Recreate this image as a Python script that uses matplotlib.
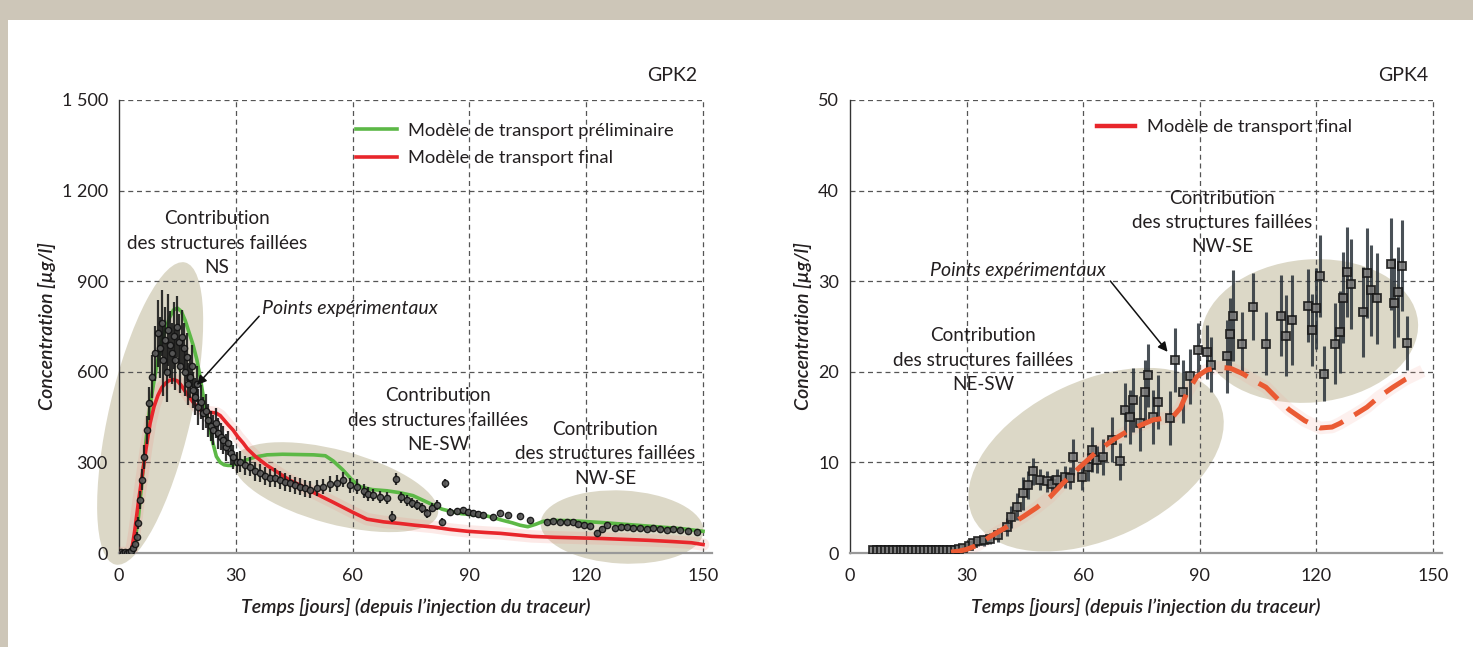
import matplotlib
matplotlib.use("Agg")
import matplotlib.pyplot as plt
from matplotlib.patches import Ellipse, Rectangle
from matplotlib.transforms import ScaledTranslation
from matplotlib.lines import Line2D

plt.rcParams['font.family'] = ['Lato', 'DejaVu Sans']

# ---------------- data: GPK2 ----------------
gpk2_t = [0.5, 1, 1.5, 2, 2.5, 3, 3.5, 4, 4.5, 5, 5.4, 5.8, 6.4, 7.1, 7.8, 8.4, 9.2, 10.1, 10.6, 11.0,
          11.4, 11.8, 12.3, 12.7, 13.1, 13.5, 14.0, 14.4, 14.8, 15.3, 15.7, 16.1, 16.6, 17.0, 17.4, 17.8,
          18.2, 18.7, 19.1, 19.5, 20.0, 20.4, 21.0, 21.7, 22.3, 22.9, 23.5, 24.2, 24.8, 25.5, 26.2, 26.8,
          27.5, 28.1, 28.8, 29.4, 30.2, 31.1, 32.3, 33.6, 34.9, 36.2, 37.5, 38.8, 40.1, 41.4, 42.6, 43.9,
          45.2, 46.5, 47.8, 49.1, 50.8, 52.5, 54.2, 55.9, 57.6, 59.3, 61.1, 62.8, 64.0, 65.3, 67.0, 68.8,
          70.0, 71.2, 72.5, 73.9, 75.2, 76.5, 77.8, 79.0, 80.5, 81.8, 82.9, 83.7, 85.0, 86.7, 88.4, 89.7,
          91.0, 92.3, 93.6, 96.1, 97.9, 100.0, 103.0, 105.6, 109.9, 111.5, 113.3, 115.0, 116.7, 118.0,
          119.3, 121.0, 122.7, 124.0, 125.3, 127.4, 129.0, 130.4, 132.0, 133.8, 135.5, 137.2, 139.0,
          140.7, 142.4, 144.1, 146.2, 148.4]
gpk2_c = [2, 0, 3, 0, 2, 5, 15, 30, 54, 98, 175, 242, 319, 407, 496, 584, 661, 727, 680, 761,
          640, 705, 600, 738, 690, 661, 720, 640, 750, 700, 620, 716, 680, 600, 650, 560,
          584, 620, 540, 518, 560, 484, 500, 463, 470, 440, 420, 407, 430, 396, 385, 374,
          350, 363, 330, 319, 300, 302, 290, 286, 270, 264, 255, 247, 250, 242, 235, 231,
          225, 220, 215, 209, 215, 220, 228, 231, 242, 225, 220, 205, 195, 192, 185, 181,
          120, 244, 185, 175, 165, 159, 148, 131, 150, 159, 104, 231, 137, 140, 142, 135,
          131, 128, 126, 120, 133, 126, 123, 109, 104, 106, 104, 102, 104, 95,
          93, 88, 65, 80, 93, 82, 85, 87, 84, 82, 80, 82, 78,
          76, 78, 76, 72, 71]
gpk2_err = [4, 4, 4, 4, 4, 5, 8, 10, 14, 20, 30, 35, 40, 45, 55, 70, 90, 110, 100, 110,
            120, 110, 100, 120, 110, 100, 110, 100, 100, 90, 90, 90, 80, 80, 80, 70,
            70, 70, 60, 60, 60, 60, 55, 55, 55, 55, 50, 50, 50, 50, 45, 45,
            45, 40, 40, 40, 35, 35, 32, 32, 30, 30, 30, 30, 30, 30, 30, 28,
            28, 28, 28, 28, 26, 26, 26, 26, 25, 25, 24, 22, 22, 20, 20, 20,
            18, 20, 18, 18, 16, 16, 16, 15, 15, 15, 12, 15, 12, 10, 10, 10,
            10, 10, 10, 8, 8, 8, 8, 8, 8, 8, 8, 8, 8, 8,
            8, 8, 10, 8, 8, 8, 8, 8, 8, 8, 8, 8, 8,
            8, 8, 8, 8, 8]

gpk2_prelim_t = [0, 3, 4, 5, 6, 7, 8, 9, 10, 11, 12, 13, 14, 15, 16, 17, 18, 19, 20, 21, 22, 23, 24,
                 25, 26, 27, 28, 29, 30, 32, 35, 38, 42, 46, 50, 53, 55, 57.5, 60, 62, 65, 68.8, 72,
                 75.5, 78, 80.7, 83, 85.8, 88, 90, 93.5, 96, 98, 101, 103, 105, 107, 109, 112, 116,
                 120, 125, 130, 135, 140, 145, 150]
gpk2_prelim_c = [0, 0, 30, 120, 250, 380, 490, 570, 640, 700, 745, 780, 805, 811, 800, 770, 730, 690,
                 640, 570, 490, 430, 370, 320, 300, 292, 290, 290, 295, 305, 318, 325, 327, 326, 325,
                 322, 305, 275, 240, 219, 210, 206, 200, 190, 175, 159, 145, 136, 130, 128, 125, 118,
                 110, 100, 92, 87, 95, 105, 108, 107, 104, 100, 95, 90, 85, 80, 72]

gpk2_final_t = [0, 3, 3.5, 4, 4.5, 5, 6, 7, 8, 9, 10, 11, 12, 13, 14, 15, 16, 17, 18, 19, 20, 21, 22,
                23, 24, 25, 26, 27, 28, 29.3, 30.5, 31.9, 33, 35, 38, 41, 44, 46.5, 50, 55, 60, 63.7,
                68, 72, 76, 80.7, 85, 89.4, 94, 98, 102, 106, 112, 118, 124, 130, 136, 142, 147, 150]
gpk2_final_c = [0, 0, 30, 70, 120, 170, 260, 350, 430, 485, 522, 548, 563, 572, 574, 570, 555, 535,
                517, 500, 485, 472, 468, 466, 465, 463, 455, 440, 425, 407, 385, 364, 345, 320, 290,
                265, 240, 225, 200, 168, 135, 112, 103, 98, 92, 86, 78, 72, 68, 65, 60, 55, 52, 50,
                48, 45, 42, 38, 34, 28]

# ---------------- data: GPK4 ----------------
gpk4_t = [6, 7, 8, 9, 10, 11, 12, 13, 14, 15, 16, 17, 18, 19, 20, 21, 22, 23, 24, 25, 26, 27, 28, 29,
          30.5, 31.7, 33, 34.5, 36.0, 38, 40.3, 41.5, 42.9, 44.6, 45.8, 47.2, 48.9, 50.6, 52, 53.2, 55.3,
          56.5, 57.4, 59.6, 61.3, 62.2, 63.5, 65.2, 67.3, 69.5, 70.7, 72.0, 72.9, 74.6, 75.9, 76.7,
          78.0, 79.3, 82.3, 83.6, 85.7, 87.5, 89.6, 91.8, 93.0, 96.9, 97.8, 98.6, 100.8, 103.8, 107.0,
          111.0, 112.2, 113.6, 117.9, 118.8, 119.9, 120.9, 121.9, 124.8, 126.1, 126.9, 127.9, 128.9,
          132.1, 133.1, 134.0, 135.7, 139.1, 140.0, 141.1, 142.0, 143.2]
gpk4_c = [0.3, 0.3, 0.3, 0.3, 0.3, 0.3, 0.3, 0.3, 0.3, 0.3, 0.3, 0.3, 0.3, 0.3, 0.3, 0.3, 0.3, 0.3,
          0.3, 0.3, 0.3, 0.3, 0.4, 0.5,
          0.8, 1.1, 1.3, 1.4, 1.6, 2.0, 2.9, 4.0, 5.1, 6.6, 7.5, 9.0, 8.1, 7.9, 7.6, 8.1, 8.4,
          8.3, 10.6, 8.4, 9.5, 11.4, 10.3, 10.6, 12.5, 10.1, 15.8, 15.0, 16.9, 14.3, 17.8, 19.6,
          15.0, 16.7, 14.9, 21.3, 17.8, 19.5, 22.4, 22.2, 20.8, 21.7, 24.2, 26.2, 23.1, 27.2, 23.1,
          26.2, 24.0, 25.7, 27.3, 24.6, 27.0, 30.6, 19.8, 23.1, 24.4, 28.2, 31.0, 29.7,
          26.6, 30.9, 29.0, 28.1, 31.9, 27.6, 28.8, 31.7, 23.2]
gpk4_err = [0.2] * 24 + [
          0.4, 0.5, 0.5, 0.6, 0.6, 0.8, 1.0, 1.2, 1.5, 1.8, 1.5, 1.5, 1.2, 1.2, 1.0, 1.2, 1.2,
          1.2, 2.0, 1.5, 1.5, 2.5, 1.5, 2.0, 2.5, 2.0, 3.0, 3.0, 3.5, 3.0, 3.5, 3.5,
          3.0, 3.0, 3.0, 3.5, 3.5, 3.0, 3.0, 3.0, 3.0, 4.0, 4.0, 5.0, 3.5, 3.7, 3.5,
          4.5, 4.5, 5.0, 4.0, 4.0, 4.5, 4.5, 3.0, 4.5, 4.5, 5.0, 5.0, 5.0,
          5.0, 5.0, 5.0, 5.0, 5.1, 5.0, 5.0, 5.0, 3.0]

gpk4_final_t = [26, 28, 30, 33, 36, 40, 44.5, 48, 51.5, 55, 59.2, 63, 67.7, 72, 78, 83, 85, 86.7, 89.3,
                91.8, 95, 97.8, 101, 104, 107, 110, 113, 117, 121, 124, 126, 130, 133, 136, 139.7,
                143, 145.9]
gpk4_final_c = [0.1, 0.2, 0.4, 0.9, 1.8, 2.8, 4.0, 5.0, 6.2, 7.8, 9.5, 11.0, 12.5, 13.6, 14.7, 15.0,
                16.0, 17.7, 19.5, 20.2, 20.5, 20.4, 19.8, 19.0, 18.3, 17.0, 15.8, 14.6, 13.8, 13.9,
                14.3, 15.3, 16.1, 17.2, 18.3, 19.2, 19.8]

x_ticks = [0, 30, 60, 90, 120, 150]
gpk2_yticks = [0, 300, 600, 900, 1200, 1500]
gpk2_yticklabels = ['0', '300', '600', '900', '1 200', '1 500']
gpk4_yticks = [0, 10, 20, 30, 40, 50]

struct_label = 'Contribution\ndes structures faillées\n'
xlabel = 'Temps [jours] (depuis l’injection du traceur)'
ylabel = 'Concentration [µg/l]'

# ---------------- figure ----------------
W, H = 1473, 647
fig = plt.figure(figsize=(W / 100, H / 100), dpi=100, facecolor='#cdc6b8')
bg = fig.add_axes([8 / W, 0, 1 - 8 / W, 1 - 20 / H], zorder=-10)
bg.set_axis_off()
bg.add_patch(Rectangle((0, 0), 1, 1, transform=bg.transAxes, facecolor='white', edgecolor='none'))

TXT = '#231f20'
GRID = '#555555'
ELL = '#dcd8c7'
FS_TICK = 13
FS = 14
FS_STRUCT = 13.6
FS_LEG = 13.2
LS = 1.52


def ellipse(ax, cx, cy, wpx, hpx, ang):
    tr = fig.dpi_scale_trans + ScaledTranslation(cx, cy, ax.transData)
    e = Ellipse((0, 0), wpx / 100, hpx / 100, angle=ang, transform=tr, facecolor=ELL,
                edgecolor='none', zorder=1, clip_on=False)
    ax.add_patch(e)


def setup(ax, yticks, ylim, yticklabels=None):
    ax.set_xlim(0, 152.3)
    ax.set_ylim(*ylim)
    ax.set_facecolor('none')
    for s in ['top', 'right']:
        ax.spines[s].set_visible(False)
    ax.spines['left'].set_color('#333333')
    ax.spines['left'].set_linewidth(1.0)
    ax.spines['bottom'].set_color('#999999')
    ax.spines['bottom'].set_linewidth(1.6)
    ax.set_xticks(x_ticks)
    ax.set_yticks(yticks)
    if yticklabels:
        ax.set_yticklabels(yticklabels)
    ax.tick_params(axis='both', length=0, labelsize=FS_TICK, labelcolor=TXT)
    ax.tick_params(axis='y', pad=8)
    ax.tick_params(axis='x', pad=11)
    for v in x_ticks[1:]:
        ax.vlines(v, ylim[0], ylim[1], colors=GRID, linestyles=(0, (4, 3)), linewidth=0.9, zorder=2)
    for v in yticks[1:]:
        ax.hlines(v, 0, 150, colors=GRID, linestyles=(0, (4, 3)), linewidth=0.9, zorder=2)
    ax.set_xlabel(xlabel, fontsize=14, style='italic', weight='semibold', color=TXT, labelpad=10)
    ax.set_ylabel(ylabel, fontsize=14, style='italic', weight='semibold', color=TXT, labelpad=4)


# ----- GPK2 -----
ax1 = fig.add_axes([119 / W, 94 / H, 593 / W, 453 / H])
setup(ax1, gpk2_yticks, (0, 1500), gpk2_yticklabels)
ellipse(ax1, 8.0, 462, 310, 82, 77)
ellipse(ax1, 55.7, 218, 211, 74, -15)
ellipse(ax1, 129.2, 86, 163, 73, -3)

ax1.plot(gpk2_final_t, gpk2_final_c, color='#f08a7a', lw=9, alpha=0.18, zorder=3,
         solid_capstyle='round')
ax1.plot(gpk2_prelim_t, gpk2_prelim_c, color='#5cb846', lw=2.6, zorder=4,
         label='Modèle de transport préliminaire')
ax1.plot(gpk2_final_t, gpk2_final_c, color='#e8262b', lw=2.6, zorder=4,
         label='Modèle de transport final')
ax1.errorbar(gpk2_t, gpk2_c, yerr=gpk2_err, fmt='o', ms=4.5, mfc='#5a5a5a', mec='#111111',
             mew=1.0, ecolor='#1b1b1b', elinewidth=1.6, capsize=0, zorder=5, alpha=0.9)

ax1.legend(loc='upper left', bbox_to_anchor=(0.40, 0.95), frameon=False, fontsize=FS_LEG,
           handlelength=2.2, handletextpad=0.6, labelspacing=0.62, borderpad=0,
           borderaxespad=0, labelcolor=TXT)

ax1.text(148.5, 1.053, 'GPK2', transform=ax1.get_xaxis_transform(), ha='right', va='center',
         fontsize=FS, color=TXT)
ax1.text(25.2, 1026, struct_label + 'NS', ha='center', va='center', fontsize=FS_STRUCT, color=TXT,
         linespacing=LS, zorder=6)
ax1.text(81.9, 440, struct_label + 'NE-SW', ha='center', va='center', fontsize=FS_STRUCT, color=TXT,
         linespacing=LS, zorder=6)
ax1.text(124.8, 328, struct_label + 'NW-SE', ha='center', va='center', fontsize=FS_STRUCT, color=TXT,
         linespacing=LS, zorder=6)
ax1.annotate('Points expérimentaux', xy=(20.0, 556), xytext=(36.7, 811), fontsize=FS,
             style='italic', color=TXT, ha='left', va='center', zorder=7,
             arrowprops=dict(arrowstyle='-|>', color='#111111', lw=1.1, shrinkA=0, shrinkB=0,
                             mutation_scale=14, relpos=(0, 0.2)))

# ----- GPK4 -----
ax2 = fig.add_axes([850 / W, 94 / H, 592 / W, 453 / H])
setup(ax2, gpk4_yticks, (0, 50))
ellipse(ax2, 63.3, 10.3, 272, 158, 25)
ellipse(ax2, 118.3, 24.5, 217, 143, 5)

ax2.plot(gpk4_final_t, gpk4_final_c, color='#f4a090', lw=9, alpha=0.15, zorder=3)
ax2.errorbar(gpk4_t, gpk4_c, yerr=gpk4_err, fmt='s', ms=5.5, mfc='#7a7a7a', mec='#151515',
             mew=1.3, ecolor='#2a323a', elinewidth=2.2, capsize=0, zorder=4, alpha=0.85)
ax2.plot(gpk4_final_t, gpk4_final_c, color='#ea5a33', lw=3.6, dashes=(5, 2.6), zorder=5)

proxy = Line2D([], [], color='#e8262b', lw=3.2)
ax2.legend([proxy], ['Modèle de transport final'], loc='upper left', bbox_to_anchor=(0.417, 0.957),
           frameon=False, fontsize=FS_LEG, handlelength=2.1, handletextpad=0.65, borderpad=0,
           borderaxespad=0, labelcolor=TXT)

ax2.text(148.7, 1.053, 'GPK4', transform=ax2.get_xaxis_transform(), ha='right', va='center',
         fontsize=FS, color=TXT)
ax2.text(95.7, 36.5, struct_label + 'NW-SE', ha='center', va='center', fontsize=FS_STRUCT, color=TXT,
         linespacing=LS, zorder=6)
ax2.text(34.2, 21.3, struct_label + 'NE-SW', ha='center', va='center', fontsize=FS_STRUCT, color=TXT,
         linespacing=LS, zorder=6)
ax2.annotate('Points expérimentaux', xy=(81.7, 22.2), xytext=(20.6, 31.2), fontsize=FS,
             style='italic', color=TXT, ha='left', va='center', zorder=7,
             arrowprops=dict(arrowstyle='-|>', color='#111111', lw=1.1, shrinkA=2, shrinkB=0,
                             mutation_scale=14, relpos=(1, 0.2)))

fig.savefig('out.png', dpi=100, facecolor=fig.get_facecolor())
